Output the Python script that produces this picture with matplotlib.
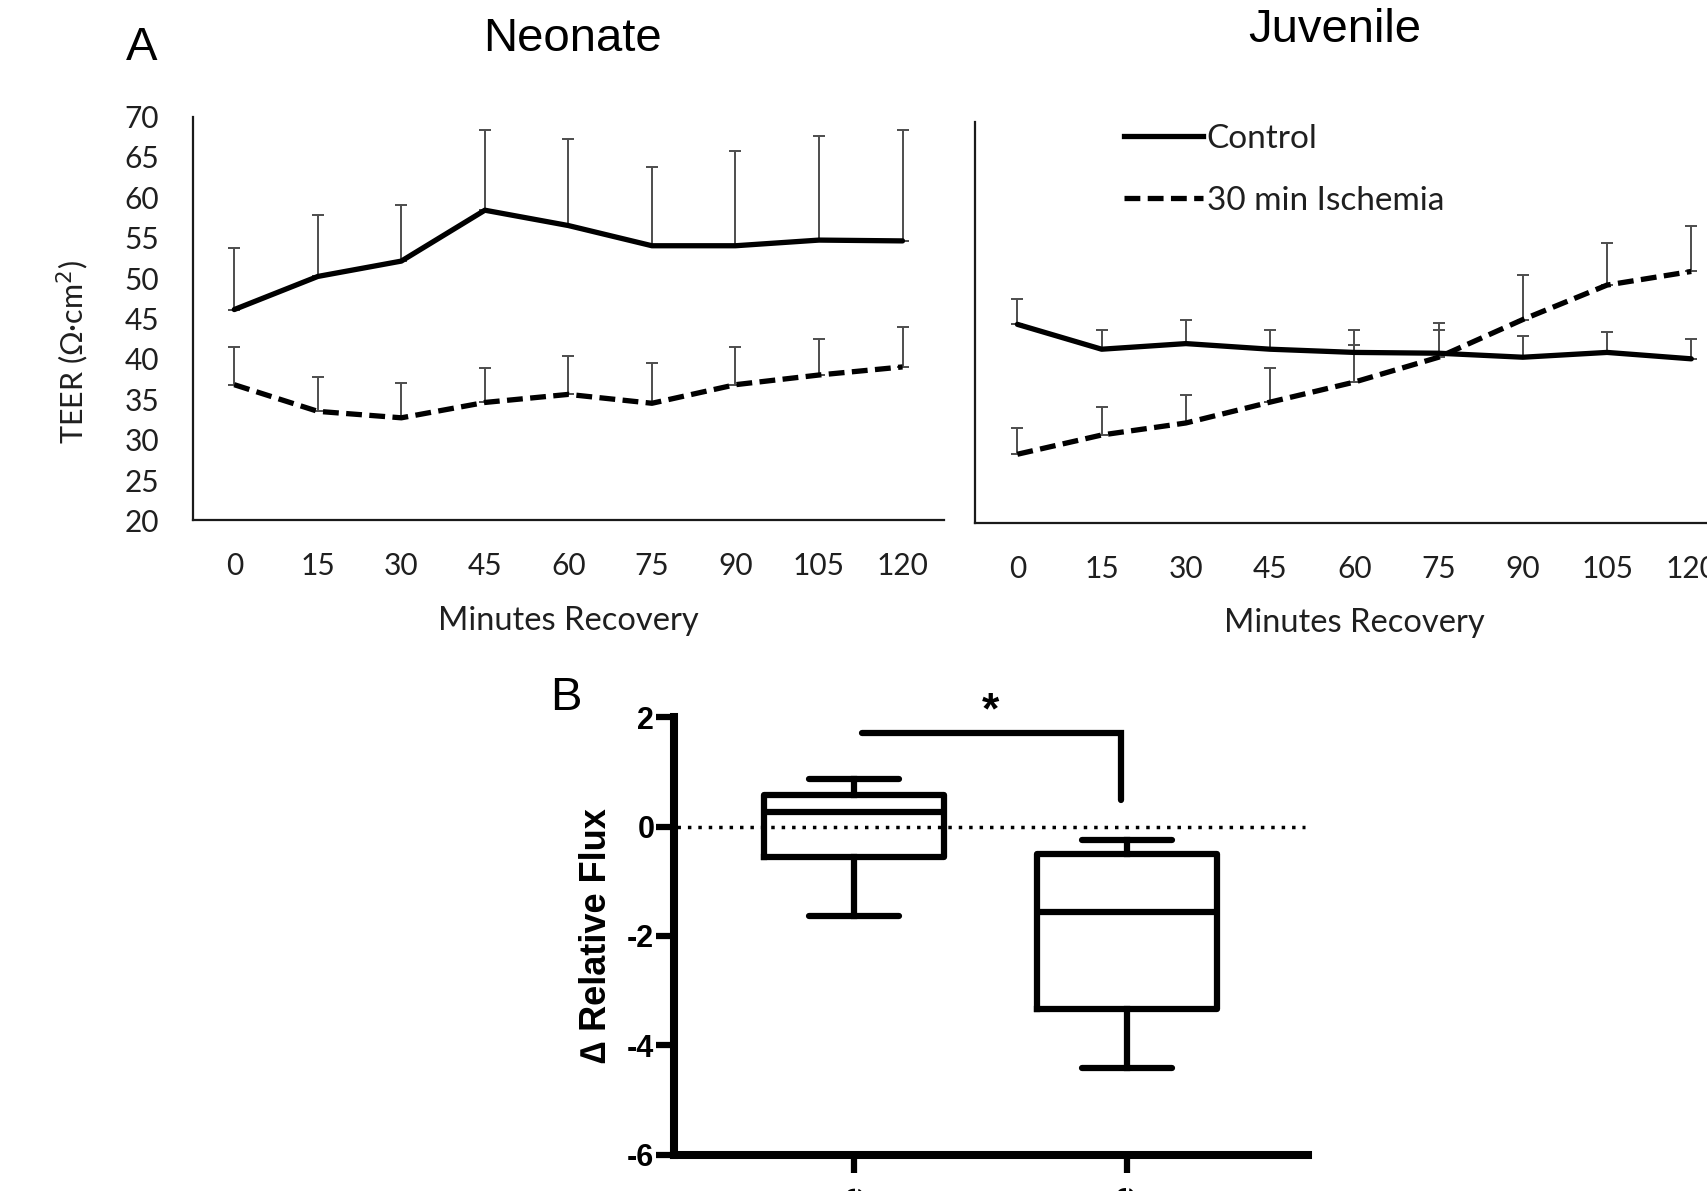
import matplotlib
matplotlib.use('Agg')
import matplotlib.pyplot as plt
from matplotlib.lines import Line2D

# ---------------- data ----------------
minutes = [0, 15, 30, 45, 60, 75, 90, 105, 120]
minute_labels = ['0', '15', '30', '45', '60', '75', '90', '105', '120']

neo_control = [46.1, 50.2, 52.1, 58.4, 56.5, 54.0, 54.0, 54.7, 54.6]
neo_control_err = [7.6, 7.6, 6.9, 9.9, 10.7, 9.8, 11.7, 12.9, 13.7]
neo_isch = [36.8, 33.5, 32.7, 34.6, 35.6, 34.5, 36.8, 38.0, 39.0]
neo_isch_err = [4.7, 4.2, 4.3, 4.3, 4.7, 5.0, 4.7, 4.5, 5.0]

juv_control = [44.8, 41.7, 42.4, 41.7, 41.3, 41.2, 40.7, 41.3, 40.5]
juv_control_err = [3.1, 2.4, 2.9, 2.4, 2.8, 2.9, 2.7, 2.5, 2.5]
juv_isch = [28.6, 31.0, 32.5, 35.1, 37.6, 40.7, 45.4, 49.7, 51.4]
juv_isch_err = [3.3, 3.5, 3.5, 4.2, 4.6, 4.3, 5.5, 5.2, 5.7]

teer_ticks = [20, 25, 30, 35, 40, 45, 50, 55, 60, 65, 70]

groups = ['Neonate', 'Juvenile']
box_whislo = [-1.64, -4.41]
box_q1 = [-0.56, -3.34]
box_med = [0.26, -1.57]
box_q3 = [0.57, -0.51]
box_whishi = [0.88, -0.25]
flux_ticks = [2, 0, -2, -4, -6]
bracket_x = [1.03, 1.98, 1.98]
bracket_y = [1.72, 1.72, 0.48]

# ---------------- figure ----------------
W, H = 1707, 1191
fig = plt.figure(figsize=(W / 100, H / 100), dpi=100)

def rect(x0, y0, x1, y1):
    return [x0 / W, 1 - y1 / H, (x1 - x0) / W, (y1 - y0) / H]

tick_font = 'Lato'
txt_col = '#1f1f1f'
tick_size = 21.5

ax_n = fig.add_axes(rect(192.5, 116.5, 944.3, 520.4))
ax_j = fig.add_axes(rect(975.3, 122.3, 1733.4, 523.2))

dash = (3.0, 1.4)
for ax, c, ce, i, ie in [(ax_n, neo_control, neo_control_err, neo_isch, neo_isch_err),
                         (ax_j, juv_control, juv_control_err, juv_isch, juv_isch_err)]:
    ax.errorbar(minutes, c, yerr=[[0] * len(c), ce], fmt='none', ecolor='#4d4d4d',
                elinewidth=1.4, capsize=4, capthick=1.4, zorder=2)
    ax.errorbar(minutes, i, yerr=[[0] * len(i), ie], fmt='none', ecolor='#4d4d4d',
                elinewidth=1.4, capsize=4, capthick=1.4, zorder=2)
    ax.plot(minutes, c, color='black', lw=3.8, solid_capstyle='round', zorder=3,
            label='Control')
    ax.plot(minutes, i, color='black', lw=3.8, dashes=dash, dash_capstyle='butt', zorder=3,
            label='30 min Ischemia')
    ax.set_xlim(-7.5, 127.5)
    ax.set_ylim(20, 70)
    ax.set_xticks(minutes)
    ax.set_xticklabels(minute_labels, fontsize=tick_size, family=tick_font, color=txt_col)
    ax.set_yticks(teer_ticks)
    for s in ['top', 'right']:
        ax.spines[s].set_visible(False)
    for s in ['left', 'bottom']:
        ax.spines[s].set_linewidth(1.6)
        ax.spines[s].set_color('#1a1a1a')
    ax.tick_params(axis='both', length=0, colors=txt_col)
    ax.tick_params(axis='x', pad=23)
    ax.tick_params(axis='y', pad=24)

ax_n.set_yticklabels([str(t) for t in teer_ticks], fontsize=tick_size, family=tick_font,
                     color=txt_col)
ax_j.set_yticklabels([])

# legend
leg_size = 24
handles = [Line2D([], [], color='black', lw=3.8),
           Line2D([], [], color='black', lw=3.8, dashes=dash, dash_capstyle='butt')]
ax_j.legend(handles, ['Control', '30 min Ischemia'], loc='upper left',
            bbox_to_anchor=(1123.5 / W, 1 - 124.0 / H), bbox_transform=fig.transFigure,
            frameon=False, borderpad=0, borderaxespad=0, handlelength=2.38,
            handletextpad=0.12, labelspacing=0.95,
            prop={'family': tick_font, 'size': leg_size}, labelcolor=txt_col)

# labels for panel A
fig.text(568 / W, 1 - 621.5 / H, 'Minutes Recovery', ha='center', va='center',
         fontsize=23.5, family=tick_font, color=txt_col)
fig.text(1354 / W, 1 - 623 / H, 'Minutes Recovery', ha='center', va='center',
         fontsize=23.5, family=tick_font, color=txt_col)
fig.text(73 / W, 1 - 352 / H, 'TEER (Ω·cm$^2$)', ha='center', va='center', rotation=90,
         fontsize=22, family=tick_font, color=txt_col)
fig.text(572 / W, 1 - 39 / H, 'Neonate', ha='center', va='center', fontsize=34,
         family='Liberation Sans')
fig.text(1334.8 / W, 1 - 30.5 / H, 'Juvenile', ha='center', va='center', fontsize=34,
         family='Liberation Sans')
fig.text(141.5 / W, 1 - 48 / H, 'A', ha='center', va='center', fontsize=34,
         family='Liberation Sans')
fig.text(566 / W, 1 - 698 / H, 'B', ha='center', va='center', fontsize=34,
         family='Liberation Sans')

# ---------------- panel B ----------------
ax_b = fig.add_axes(rect(673.7, 717.3, 1307.9, 1154.5))
stats = []
for k in range(len(groups)):
    stats.append(dict(label=groups[k], med=box_med[k], q1=box_q1[k], q3=box_q3[k],
                      whislo=box_whislo[k], whishi=box_whishi[k], fliers=[]))
lw_b = 4.5
ax_b.bxp(stats, positions=[1, 2], widths=0.66, showfliers=False, patch_artist=False,
         boxprops=dict(linewidth=lw_b, color='black'),
         medianprops=dict(linewidth=lw_b, color='black'),
         whiskerprops=dict(linewidth=lw_b, color='black'),
         capprops=dict(linewidth=lw_b, color='black', solid_capstyle='round'))
ax_b.axhline(0, xmin=0.005, xmax=0.995, color='black', lw=2.5, dashes=(1, 2), zorder=0)
ax_b.plot(bracket_x, bracket_y, color='black', lw=lw_b, solid_capstyle='round',
          solid_joinstyle='miter', clip_on=False)
ax_b.text(1.5, 2.1, '*', ha='center', va='center', fontsize=32, fontweight='bold',
          family='Liberation Sans')
ax_b.set_xlim(0.34, 2.664)
ax_b.set_ylim(-6, 2)
ax_b.set_yticks(flux_ticks)
ax_b.set_yticklabels([str(t) for t in flux_ticks], fontsize=22, fontweight='bold',
                     family='Liberation Sans')
ax_b.set_xticks([1, 2])
ax_b.set_xticklabels(groups, rotation=90, fontsize=22, fontweight='bold',
                     family='Liberation Sans', va='top', ha='center')
for s in ['top', 'right']:
    ax_b.spines[s].set_visible(False)
for s in ['left', 'bottom']:
    ax_b.spines[s].set_linewidth(5.8)
ax_b.tick_params(axis='both', length=13, width=4.5, direction='out')
ax_b.tick_params(axis='y', pad=1)
ax_b.tick_params(axis='x', pad=9)
ax_b.set_ylabel('∆ Relative Flux', fontsize=26, fontweight='bold', family='Liberation Sans')
ax_b.yaxis.set_label_coords((614.5 - 673.7) / (1307.9 - 673.7), 0.5)

fig.savefig('out.png', dpi=100)
